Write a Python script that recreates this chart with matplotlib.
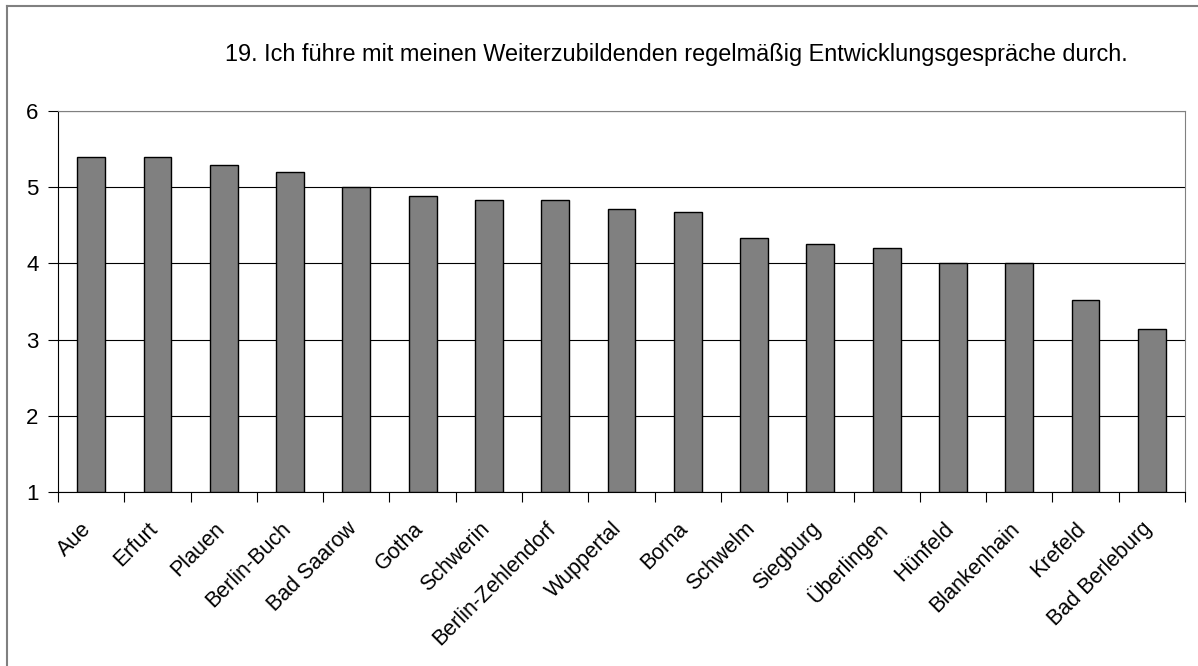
import matplotlib.pyplot as plt
import numpy as np
from matplotlib.transforms import ScaledTranslation

plt.rcParams['font.family'] = ['Liberation Sans', 'DejaVu Sans']

title = "19. Ich führe mit meinen Weiterzubildenden regelmäßig Entwicklungsgespräche durch."

standorte = ['Aue', 'Erfurt', 'Plauen', 'Berlin-Buch', 'Bad Saarow', 'Gotha',
             'Schwerin', 'Berlin-Zehlendorf', 'Wuppertal', 'Borna', 'Schwelm',
             'Siegburg', 'Überlingen', 'Hünfeld', 'Blankenhain', 'Krefeld',
             'Bad Berleburg']
werte = [5.40, 5.40, 5.29, 5.20, 5.00, 4.88, 4.83, 4.83, 4.71, 4.67, 4.33,
         4.25, 4.20, 4.00, 4.00, 3.52, 3.14]
y_ticks = [1, 2, 3, 4, 5, 6]

W, H = 1198, 666
fig = plt.figure(figsize=(W / 100, H / 100), dpi=100)

# Rahmen um das ganze Diagramm (rechts und unten abgeschnitten)
fig.add_artist(plt.Line2D([7 / W, 7 / W], [0, 1 - 6 / H], color='#808080', lw=1.5,
                          transform=fig.transFigure))
fig.add_artist(plt.Line2D([7 / W, 1], [1 - 6 / H, 1 - 6 / H], color='#808080', lw=1.5,
                          transform=fig.transFigure))

left, right, top, bottom = 58, 1185, 111, 492
ax = fig.add_axes([left / W, 1 - bottom / H, (right - left) / W, (bottom - top) / H])

x = np.arange(len(standorte))
ax.bar(x, np.array(werte) - 1, bottom=1, width=0.42, color='#808080',
       edgecolor='black', linewidth=1, zorder=3)

ax.set_ylim(1, 6)
ax.set_xlim(-0.5, len(standorte) - 0.5)
ax.set_yticks(y_ticks)
ax.tick_params(axis='y', labelsize=16, length=7, width=0.8, pad=7)
ax.yaxis.grid(True, color='black', linewidth=0.8, zorder=0)

# Striche zwischen den Kategorien, Beschriftung in der Mitte
ax.set_xticks(np.arange(len(standorte) + 1) - 0.5)
ax.set_xticklabels([])
ax.set_xticks(x, minor=True)
ax.set_xticklabels(standorte, minor=True, rotation=45, ha='right',
                   rotation_mode='anchor', fontsize=15.5)
ax.tick_params(axis='x', which='major', length=7, width=0.8)
ax.tick_params(axis='x', which='minor', length=0, pad=19)

verschiebung = ScaledTranslation(-0.10, 0, fig.dpi_scale_trans)
for lbl in ax.get_xticklabels(minor=True):
    lbl.set_transform(lbl.get_transform() + verschiebung)

for s in ['top', 'right']:
    ax.spines[s].set_color('#808080')
for s in ['left', 'bottom']:
    ax.spines[s].set_color('black')

fig.text(676 / W, 1 - 55 / H, title, ha='center', va='center', fontsize=16.9)

fig.savefig('out.png', dpi=100)
